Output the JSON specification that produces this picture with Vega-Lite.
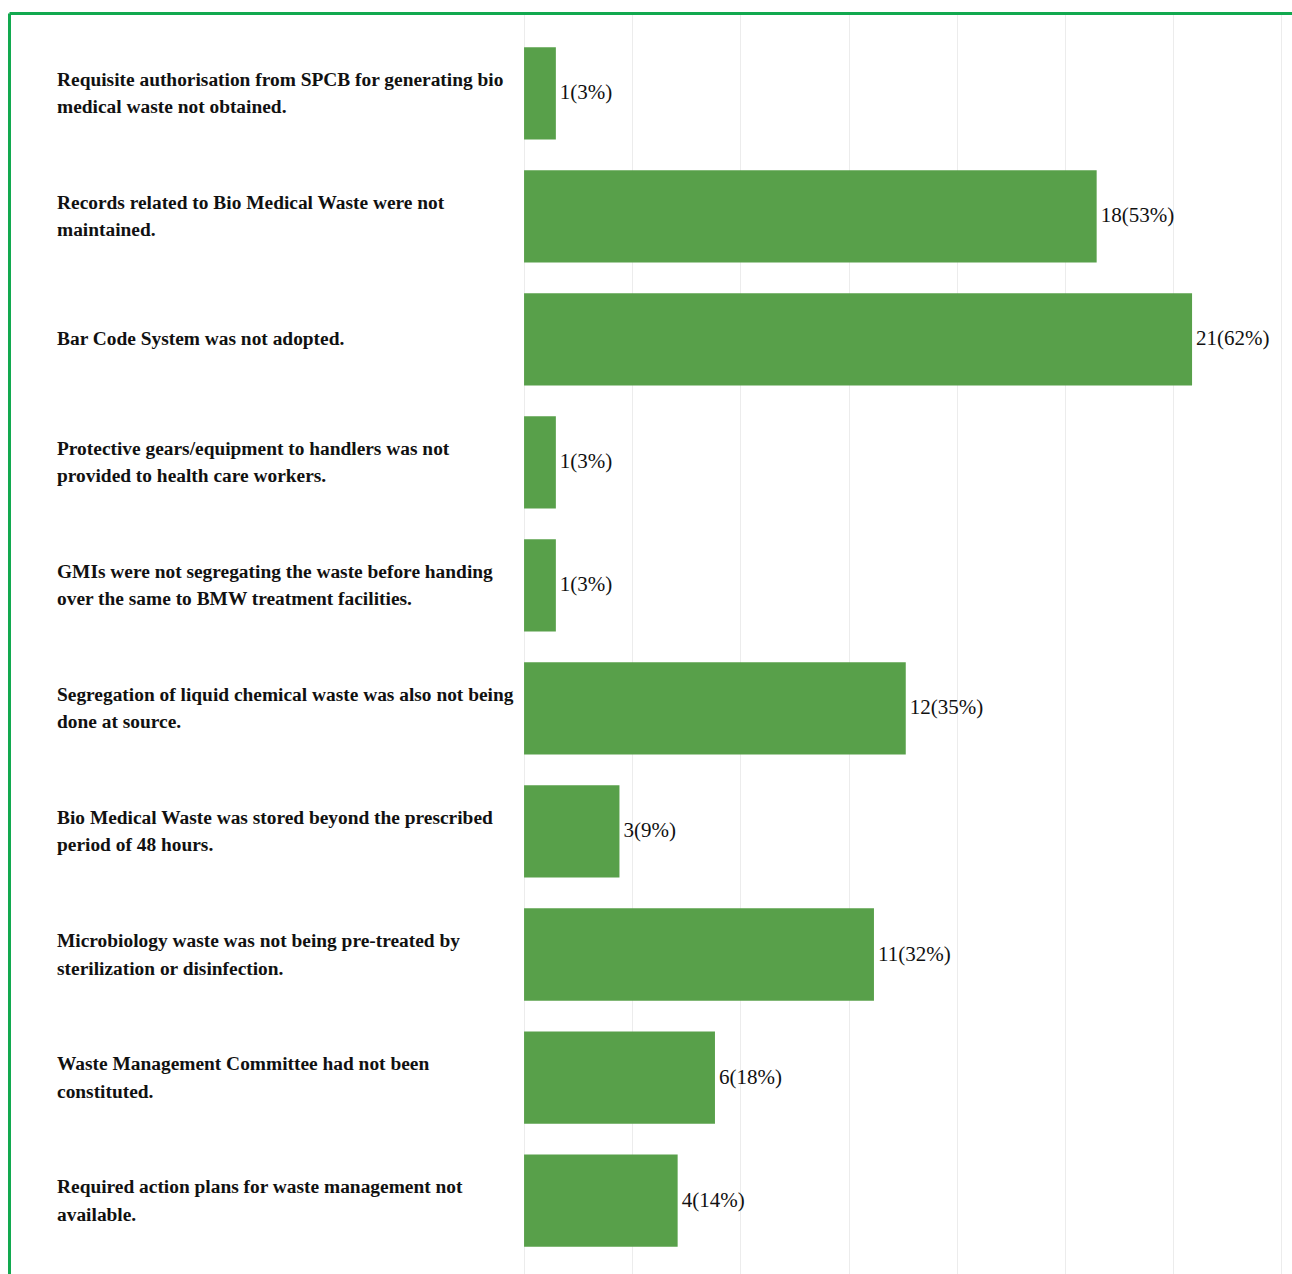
{
  "$schema": "https://vega.github.io/schema/vega-lite/v6.json",
  "width": 1283,
  "height": 1261,
  "autosize": {"type": "none"},
  "padding": {"left": 9, "top": 13, "right": 0, "bottom": 0},
  "background": "white",
  "config": {"view": {"stroke": null}},
  "data": {
    "values": [
      {"issue": "Requisite authorisation from SPCB for generating bio|medical waste not obtained.", "percent": 2.94, "label": "1(3%)"},
      {"issue": "Records related to Bio Medical Waste were not|maintained.", "percent": 52.94, "label": "18(53%)"},
      {"issue": "Bar Code System was not adopted.", "percent": 61.76, "label": "21(62%)"},
      {"issue": "Protective gears/equipment to handlers was not|provided to health care workers.", "percent": 2.94, "label": "1(3%)"},
      {"issue": "GMIs were not segregating the waste before handing|over the same to BMW treatment facilities.", "percent": 2.94, "label": "1(3%)"},
      {"issue": "Segregation of liquid chemical waste was also not being|done at source.", "percent": 35.29, "label": "12(35%)"},
      {"issue": "Bio Medical Waste was stored beyond the prescribed|period of 48 hours.", "percent": 8.82, "label": "3(9%)"},
      {"issue": "Microbiology waste was not being pre-treated by|sterilization or disinfection.", "percent": 32.35, "label": "11(32%)"},
      {"issue": "Waste Management Committee had not been|constituted.", "percent": 17.65, "label": "6(18%)"},
      {"issue": "Required action plans for waste management not|available.", "percent": 14.2, "label": "4(14%)"}
    ]
  },
  "encoding": {
    "y": {
      "field": "issue",
      "type": "nominal",
      "sort": null,
      "axis": {
        "labels": false,
        "ticks": false,
        "title": null,
        "domain": true,
        "domainColor": "#12a94f",
        "domainWidth": 3
      },
      "scale": {"paddingInner": 0.25, "paddingOuter": 0.25, "align": 0.556}
    }
  },
  "layer": [
    {
      "mark": {"type": "bar", "color": "#58a04a"},
      "encoding": {
        "x": {
          "field": "percent",
          "type": "quantitative",
          "scale": {"domain": [-47.62, 71.0], "nice": false, "zero": false},
          "axis": {
            "orient": "top",
            "values": [0, 10, 20, 30, 40, 50, 60, 70],
            "grid": true,
            "gridColor": "#ececec",
            "gridWidth": 1,
            "labels": false,
            "ticks": false,
            "domain": true,
            "domainColor": "#12a94f",
            "domainWidth": 3,
            "title": null
          }
        },
        "x2": {"datum": 0}
      }
    },
    {
      "mark": {"type": "text", "align": "left", "baseline": "middle", "dx": 4, "font": "Liberation Serif", "fontSize": 21, "color": "#111111"},
      "encoding": {
        "x": {"field": "percent", "type": "quantitative"},
        "text": {"field": "label"}
      }
    },
    {
      "transform": [{"filter": "indexof(datum.issue, '|') >= 0"}],
      "mark": {"type": "text", "align": "left", "baseline": "middle", "dy": -13.5, "font": "Liberation Serif", "fontWeight": "bold", "fontSize": 19.4, "lineBreak": "|", "lineHeight": 27.5, "color": "#111111"},
      "encoding": {
        "x": {"datum": -43.18},
        "text": {"field": "issue"}
      }
    },
    {
      "transform": [{"filter": "indexof(datum.issue, '|') < 0"}],
      "mark": {"type": "text", "align": "left", "baseline": "middle", "font": "Liberation Serif", "fontWeight": "bold", "fontSize": 19.4, "color": "#111111"},
      "encoding": {
        "x": {"datum": -43.18},
        "text": {"field": "issue"}
      }
    }
  ]
}
